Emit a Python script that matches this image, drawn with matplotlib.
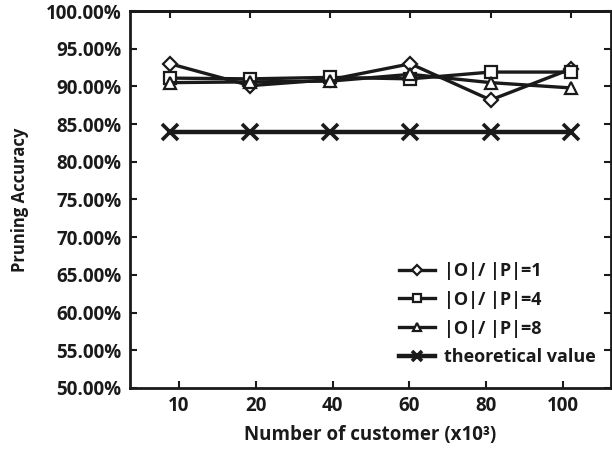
import matplotlib.pyplot as plt
from matplotlib.ticker import FuncFormatter

plt.rcParams['font.family'] = ['Open Sans', 'DejaVu Sans']
plt.rcParams['font.weight'] = 'bold'

customers = ["10", "20", "40", "60", "80", "100"]
ratio_1 = [93.0, 90.1, 90.9, 93.0, 88.2, 92.3]
ratio_4 = [91.1, 91.0, 91.2, 91.0, 91.9, 91.9]
ratio_8 = [90.5, 90.6, 90.7, 91.6, 90.5, 89.8]
theoretical = [84.0, 84.0, 84.0, 84.0, 84.0, 84.0]

ink = "#1a1a1a"
xs = list(range(len(customers)))

fig = plt.figure(figsize=(6.12, 4.49), dpi=100)
ax = fig.add_axes([0.2124, 0.1359, 0.7856, 0.8396])

style = dict(color=ink, linewidth=2.4, markerfacecolor="white",
             markeredgecolor=ink, markeredgewidth=1.6)
ax.plot(xs, ratio_1, marker="D", markersize=7, label="|O|/ |P|=1", **style)
ax.plot(xs, ratio_4, marker="s", markersize=8.5, label="|O|/ |P|=4", **style)
ax.plot(xs, ratio_8, marker="^", markersize=8, label="|O|/ |P|=8", **style)
ax.plot(xs, theoretical, marker="x", markersize=11, color=ink, linewidth=3.2,
        markeredgewidth=2.6, label="theoretical value")

ax.set_xlim(-0.5, len(customers) - 0.5)
ax.set_ylim(50, 100)

# bottom category labels sit slightly inset from the data columns (as in the original)
bottom_ticks = [0.11 + 0.959 * i for i in xs]
ax.set_xticks(bottom_ticks)
ax.set_xticklabels(customers)
top = ax.secondary_xaxis("top")
top.set_xticks(xs)
top.set_xticklabels([])
top.tick_params(direction="in", length=5, width=1.5, colors=ink)
top.spines["top"].set_linewidth(2)

ax.set_yticks(range(50, 101, 5))
ax.yaxis.set_major_formatter(FuncFormatter(lambda v, _: f"{v:.2f}%"))

ax.tick_params(direction="in", length=5, width=1.5, right=True,
               labelsize=13.5, colors=ink, pad=6)
for s in ax.spines.values():
    s.set_linewidth(2)
    s.set_color(ink)

ax.set_xlabel("Number of customer (x10³)", fontsize=13.5, fontweight="bold",
              color=ink, labelpad=6)
ax.set_ylabel("Pruning Accuracy", fontsize=12, fontweight="bold",
              color=ink, labelpad=12)

leg = ax.legend(loc="lower right", bbox_to_anchor=(1.003, 0.014), frameon=False,
                fontsize=13, labelspacing=0.6, handlelength=2.0,
                handletextpad=0.5, markerscale=0.7)
for t in leg.get_texts():
    t.set_color(ink)

fig.savefig("out.png", dpi=100)
